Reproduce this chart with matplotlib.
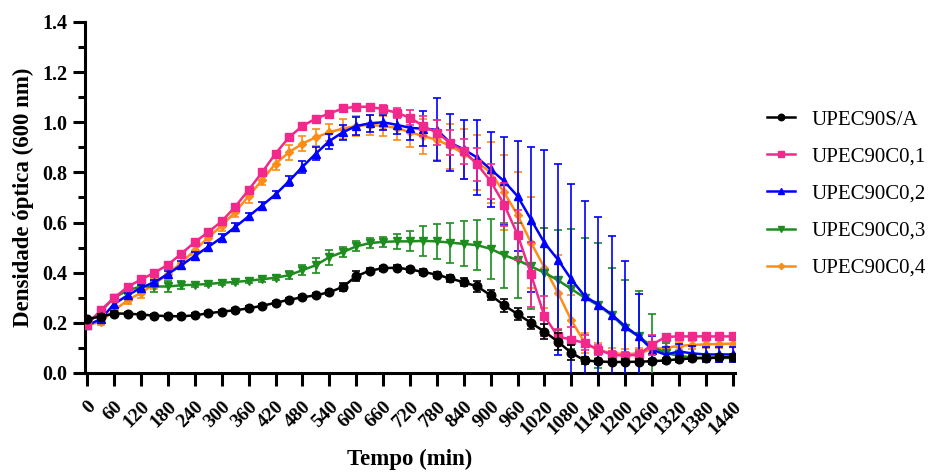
import matplotlib

matplotlib.use("Agg")
import matplotlib.pyplot as plt
from matplotlib.lines import Line2D
from matplotlib.ticker import MultipleLocator

plt.rcParams["font.family"] = ["Liberation Serif", "DejaVu Serif"]

# sampling times (min)
tempo = [0, 30, 60, 90, 120, 150, 180, 210, 240, 270, 300, 330, 360, 390, 420,
         450, 480, 510, 540, 570, 600, 630, 660, 690, 720, 750, 780, 810, 840,
         870, 900, 930, 960, 990, 1020, 1050, 1080, 1110, 1140, 1170, 1200,
         1230, 1260, 1290, 1320, 1350, 1380, 1410, 1440]

upec_sa = [0.215, 0.225, 0.237, 0.237, 0.233, 0.229, 0.227, 0.226, 0.230, 0.238,
           0.245, 0.250, 0.258, 0.268, 0.280, 0.292, 0.302, 0.310, 0.322, 0.343,
           0.386, 0.408, 0.418, 0.420, 0.413, 0.403, 0.392, 0.377, 0.362, 0.345,
           0.310, 0.270, 0.235, 0.200, 0.165, 0.125, 0.080, 0.050, 0.046, 0.044,
           0.044, 0.045, 0.047, 0.050, 0.055, 0.058, 0.060, 0.062, 0.063]
upec_sa_err = [0.01, 0.01, 0.01, 0.008, 0.008, 0.008, 0.008, 0.008, 0.008, 0.008,
               0.008, 0.008, 0.008, 0.008, 0.008, 0.008, 0.008, 0.008, 0.01, 0.015,
               0.02, 0.01, 0.01, 0.01, 0.01, 0.012, 0.012, 0.015, 0.015, 0.02,
               0.02, 0.025, 0.025, 0.025, 0.03, 0.035, 0.03, 0.015, 0.01, 0.01,
               0.01, 0.01, 0.01, 0.01, 0.01, 0.01, 0.01, 0.01, 0.01]

upec_c01 = [0.193, 0.250, 0.300, 0.343, 0.373, 0.400, 0.432, 0.476, 0.522, 0.562,
            0.605, 0.663, 0.730, 0.800, 0.875, 0.940, 0.985, 1.015, 1.035, 1.055,
            1.062, 1.062, 1.052, 1.038, 1.018, 0.985, 0.958, 0.918, 0.885, 0.832,
            0.765, 0.672, 0.552, 0.393, 0.226, 0.146, 0.133, 0.120, 0.093, 0.073,
            0.069, 0.073, 0.113, 0.144, 0.146, 0.146, 0.146, 0.146, 0.146]
upec_c01_err = [0.01, 0.01, 0.01, 0.01, 0.01, 0.01, 0.01, 0.01, 0.01, 0.01,
                0.01, 0.01, 0.01, 0.01, 0.01, 0.01, 0.01, 0.01, 0.01, 0.01,
                0.01, 0.012, 0.015, 0.02, 0.03, 0.04, 0.05, 0.05, 0.05, 0.065,
                0.07, 0.085, 0.10, 0.13, 0.08, 0.03, 0.05, 0.03, 0.02, 0.015,
                0.015, 0.02, 0.04, 0.01, 0.01, 0.01, 0.01, 0.01, 0.01]

upec_c02 = [0.190, 0.215, 0.275, 0.310, 0.340, 0.362, 0.395, 0.430, 0.467, 0.503,
            0.540, 0.582, 0.625, 0.668, 0.712, 0.765, 0.822, 0.875, 0.925, 0.960,
            0.985, 0.996, 1.000, 0.990, 0.978, 0.974, 0.970, 0.918, 0.892, 0.859,
            0.812, 0.765, 0.705, 0.612, 0.519, 0.452, 0.373, 0.306, 0.273, 0.233,
            0.186, 0.146, 0.093, 0.073, 0.086, 0.078, 0.074, 0.074, 0.074]
upec_c02_err = [0.01, 0.01, 0.01, 0.01, 0.01, 0.01, 0.01, 0.015, 0.015, 0.015,
                0.015, 0.015, 0.015, 0.015, 0.015, 0.02, 0.025, 0.025, 0.03, 0.03,
                0.035, 0.035, 0.03, 0.035, 0.05, 0.07, 0.125, 0.114, 0.117, 0.15,
                0.15, 0.175, 0.22, 0.29, 0.37, 0.38, 0.38, 0.38, 0.35, 0.315,
                0.26, 0.17, 0.053, 0.03, 0.03, 0.03, 0.03, 0.03, 0.03]

upec_c03 = [0.200, 0.245, 0.300, 0.330, 0.345, 0.345, 0.345, 0.350, 0.352, 0.355,
            0.360, 0.363, 0.368, 0.374, 0.380, 0.390, 0.410, 0.430, 0.462, 0.482,
            0.505, 0.518, 0.523, 0.525, 0.525, 0.527, 0.525, 0.520, 0.515, 0.510,
            0.495, 0.470, 0.450, 0.425, 0.400, 0.370, 0.335, 0.300, 0.270, 0.230,
            0.180, 0.146, 0.106, 0.080, 0.068, 0.062, 0.060, 0.060, 0.060]
upec_c03_err = [0.01, 0.01, 0.01, 0.015, 0.02, 0.02, 0.02, 0.015, 0.01, 0.01,
                0.01, 0.01, 0.01, 0.01, 0.01, 0.015, 0.02, 0.03, 0.03, 0.02,
                0.02, 0.02, 0.02, 0.03, 0.04, 0.06, 0.07, 0.08, 0.09, 0.10,
                0.12, 0.13, 0.15, 0.17, 0.18, 0.20, 0.24, 0.24, 0.25, 0.19,
                0.19, 0.18, 0.13, 0.04, 0.02, 0.015, 0.015, 0.015, 0.015]

upec_c04 = [0.190, 0.205, 0.250, 0.290, 0.320, 0.355, 0.395, 0.440, 0.490, 0.540,
            0.588, 0.642, 0.705, 0.770, 0.835, 0.880, 0.915, 0.940, 0.960, 0.975,
            0.985, 0.990, 0.985, 0.978, 0.960, 0.945, 0.930, 0.905, 0.875, 0.840,
            0.800, 0.720, 0.630, 0.520, 0.420, 0.320, 0.210, 0.120, 0.090, 0.080,
            0.075, 0.078, 0.095, 0.100, 0.108, 0.112, 0.114, 0.116, 0.117]
upec_c04_err = [0.01, 0.015, 0.015, 0.015, 0.02, 0.02, 0.02, 0.02, 0.02, 0.02,
                0.02, 0.02, 0.025, 0.02, 0.025, 0.03, 0.03, 0.035, 0.035, 0.04,
                0.04, 0.04, 0.04, 0.05, 0.06, 0.07, 0.08, 0.09, 0.10, 0.11,
                0.12, 0.15, 0.17, 0.18, 0.16, 0.15, 0.10, 0.04, 0.03, 0.02,
                0.02, 0.02, 0.02, 0.02, 0.015, 0.015, 0.015, 0.015, 0.015]

labels = ["UPEC90S/A", "UPEC90C0,1", "UPEC90C0,2", "UPEC90C0,3", "UPEC90C0,4"]
x_ticks = list(range(0, 1441, 60))

# (values, errors, colour, marker, size, zorder)
series = [
    (upec_sa, upec_sa_err, "#000000", "o", 6.2, 6),
    (upec_c01, upec_c01_err, "#F2288C", "s", 5.8, 5),
    (upec_c02, upec_c02_err, "#0000FF", "^", 6.2, 4),
    (upec_c03, upec_c03_err, "#1E8C1E", "v", 6.2, 3),
    (upec_c04, upec_c04_err, "#FF8C14", "D", 4.2, 2),
]

fig = plt.figure(figsize=(9.41, 4.76), dpi=100)
ax = fig.add_axes([0.0903, 0.2164, 0.6908, 0.7374])

handles = []
for (vals, errs, color, marker, ms, z), label in zip(series, labels):
    ax.errorbar(tempo, vals, yerr=errs, color=color, marker=marker,
                markersize=ms, linewidth=1.8, elinewidth=1.2, capsize=3,
                capthick=1.2, zorder=z)
    # legend shows only line + marker, no error bar
    handles.append(Line2D([], [], color=color, marker=marker,
                          markersize=ms * 0.75, linewidth=1.8))

ax.set_xlim(-5, 1445)
ax.set_ylim(0, 1.4)
ax.set_xticks(x_ticks)
ax.set_xticklabels([str(t) for t in x_ticks], rotation=45, ha="right",
                   rotation_mode="anchor", fontweight="bold", fontsize=14)
ax.yaxis.set_major_locator(MultipleLocator(0.2))
ax.yaxis.set_minor_locator(MultipleLocator(0.1))
ax.set_yticklabels([f"{v:.1f}" for v in ax.get_yticks()], fontweight="bold",
                   fontsize=14.5)

for side in ("top", "right"):
    ax.spines[side].set_visible(False)
for side in ("left", "bottom"):
    ax.spines[side].set_linewidth(2.2)
ax.tick_params(axis="both", which="major", length=9, width=2.2, direction="out")
ax.tick_params(axis="y", which="minor", length=5, width=2.2, direction="out")
ax.tick_params(axis="x", pad=9)

ax.set_xlabel("Tempo (min)", fontweight="bold", fontsize=16.5, labelpad=8)
ax.set_ylabel("Densidade óptica (600 nm)", fontweight="bold", fontsize=16.5,
              labelpad=6)

ax.legend(handles, labels, loc="center left", bbox_to_anchor=(1.02, 0.51),
          frameon=False, fontsize=15, handlelength=1.35, labelspacing=0.84,
          handletextpad=0.8)

fig.savefig("out.png", dpi=100)
